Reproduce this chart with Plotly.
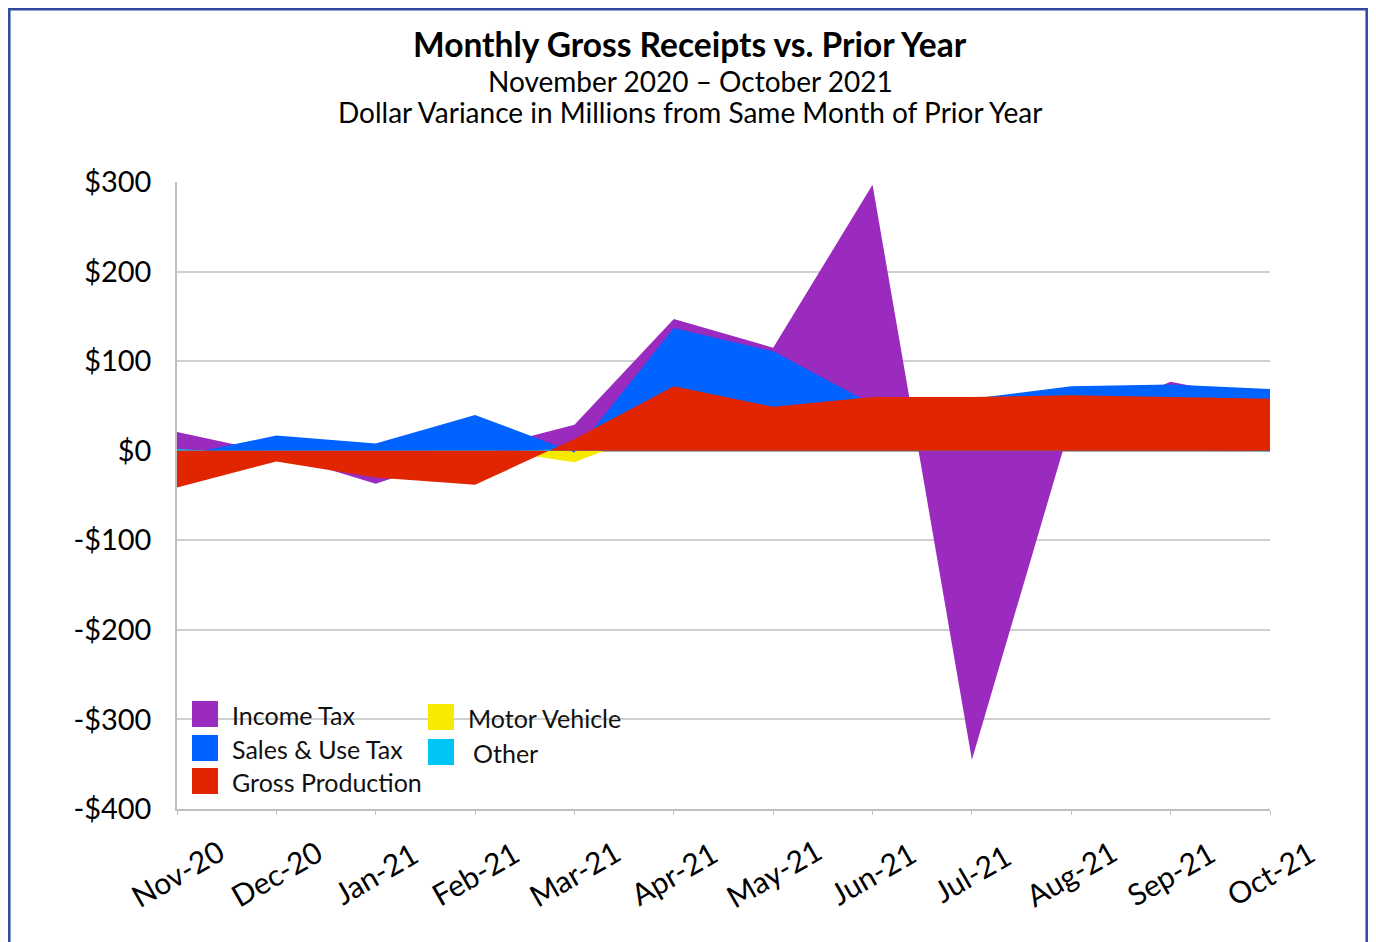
import plotly.graph_objects as go

# ---- data (millions of dollars, variance vs same month prior year) ----
months = ["Nov-20", "Dec-20", "Jan-21", "Feb-21", "Mar-21", "Apr-21",
          "May-21", "Jun-21", "Jul-21", "Aug-21", "Sep-21", "Oct-21"]

income_tax = [21, -3, -37, 0, 29, 147, 115, 297, -345, 32, 77, 55]
motor_vehicle = [-3, -5, -4, 4, -13, 30, 6, 4, 3, 5, 2, 3]
sales_use_tax = [-6, 17, 8, 40, -2, 137, 111, 52, 58, 72, 74, 69]
other = [2, -4, -3, -1, 2, 3, 2, 1, 2, 3, 2, -1]
gross_production = [-41, -12, -30, -38, 13, 72, 49, 60, 60, 62, 60, 58]

y_ticks = [300, 200, 100, 0, -100, -200, -300, -400]
y_tick_text = ["$300", "$200", "$100", "$0", "-$100", "-$200", "-$300", "-$400"]

# series in Excel plotting order (first is at the back)
series = [
    ("Income Tax", income_tax, "#9A2BBE"),
    ("Motor Vehicle", motor_vehicle, "#F5EA00"),
    ("Sales & Use Tax", sales_use_tax, "#0062FF"),
    ("Other", other, "#00C6F7"),
    ("Gross Production", gross_production, "#E02500"),
]

FONT = "Lato"
OFF = 8  # page body margin, figure sits 8px in from the window corner
W, H = 1360, 934
L, T = 177 - OFF, 182 - OFF
R, B = W - (1270 - OFF), H - (809 - OFF)
PW, PH = W - L - R, H - T - B


def px(x):
    # window pixel -> paper coordinate
    return (x - OFF - L) / PW


def py(y):
    return (H - B - (y - OFF)) / PH


fig = go.Figure()
for name, vals, color in series:
    fig.add_trace(go.Scatter(
        x=months, y=vals, name=name, mode="lines", fill="tozeroy",
        line=dict(width=0, color=color), fillcolor=color,
        showlegend=False, hoverinfo="x+y+name",
    ))

annotations = [
    dict(text="<b>Monthly Gross Receipts vs. Prior Year</b>", x=px(690), y=py(44),
         font=dict(size=33.5, color="#000000")),
    dict(text="November 2020 \u2013 October 2021", x=px(690), y=py(80.5),
         font=dict(size=28, color="#000000")),
    dict(text="Dollar Variance in Millions from Same Month of Prior Year", x=px(690), y=py(112),
         font=dict(size=28, color="#000000")),
]
for a in annotations:
    a.update(xref="paper", yref="paper", showarrow=False, xanchor="center", yanchor="middle")

# rotated category labels, centred under each tick
for m in months:
    annotations.append(dict(text=m, x=m, xref="x", y=py(873), yref="paper", showarrow=False,
                            textangle=-30, xanchor="center", yanchor="middle",
                            font=dict(size=30, color="#000000")))

# legend laid out like the original (two columns)
legend_items = [
    ("Income Tax", "#9A2BBE", 192, 714, 230),
    ("Sales & Use Tax", "#0062FF", 192, 748, 230),
    ("Gross Production", "#E02500", 192, 781, 230),
    ("Motor Vehicle", "#F5EA00", 428, 717, 466),
    ("Other", "#00C6F7", 428, 752, 471),
]
shapes = []
for label, color, sx, cy, tx in legend_items:
    shapes.append(dict(type="rect", xref="paper", yref="paper",
                       x0=px(sx), x1=px(sx + 26), y0=py(cy + 13), y1=py(cy - 13),
                       fillcolor=color, line=dict(width=0)))
    annotations.append(dict(text=label, x=px(tx), y=py(cy + 1), xref="paper", yref="paper",
                            showarrow=False, xanchor="left", yanchor="middle",
                            font=dict(size=25, color="#111111")))

# outer frame
shapes.append(dict(type="rect", xref="paper", yref="paper", layer="above",
                   x0=px(OFF + 1.3), x1=px(OFF + W - 1.3), y0=py(960), y1=py(OFF + 1.3),
                   line=dict(color="#2F4A9C", width=2.5), fillcolor="rgba(0,0,0,0)"))

fig.update_layout(
    width=W, height=H,
    margin=dict(l=L, r=R, t=T, b=B),
    paper_bgcolor="white", plot_bgcolor="white",
    font=dict(family=FONT, color="#000000"),
    showlegend=False,
    annotations=annotations,
    shapes=shapes,
    xaxis=dict(
        type="category", range=[0, len(months) - 1],
        showticklabels=False, showgrid=False, zeroline=False,
        showline=True, linecolor="#BFBFBF", linewidth=1.5,
        ticks="outside", ticklen=4, tickcolor="#BFBFBF", tickwidth=1,
    ),
    yaxis=dict(
        range=[-400, 300], tickvals=y_ticks, ticktext=y_tick_text,
        tickfont=dict(size=29, color="#000000"), ticks="", ticklabelstandoff=18,
        showgrid=True, gridcolor="#D0D0D0", gridwidth=1.5,
        zeroline=True, zerolinecolor="#A6A6A6", zerolinewidth=1.5,
        showline=True, linecolor="#BFBFBF", linewidth=1.5,
    ),
)

fig.write_html("out.html")
